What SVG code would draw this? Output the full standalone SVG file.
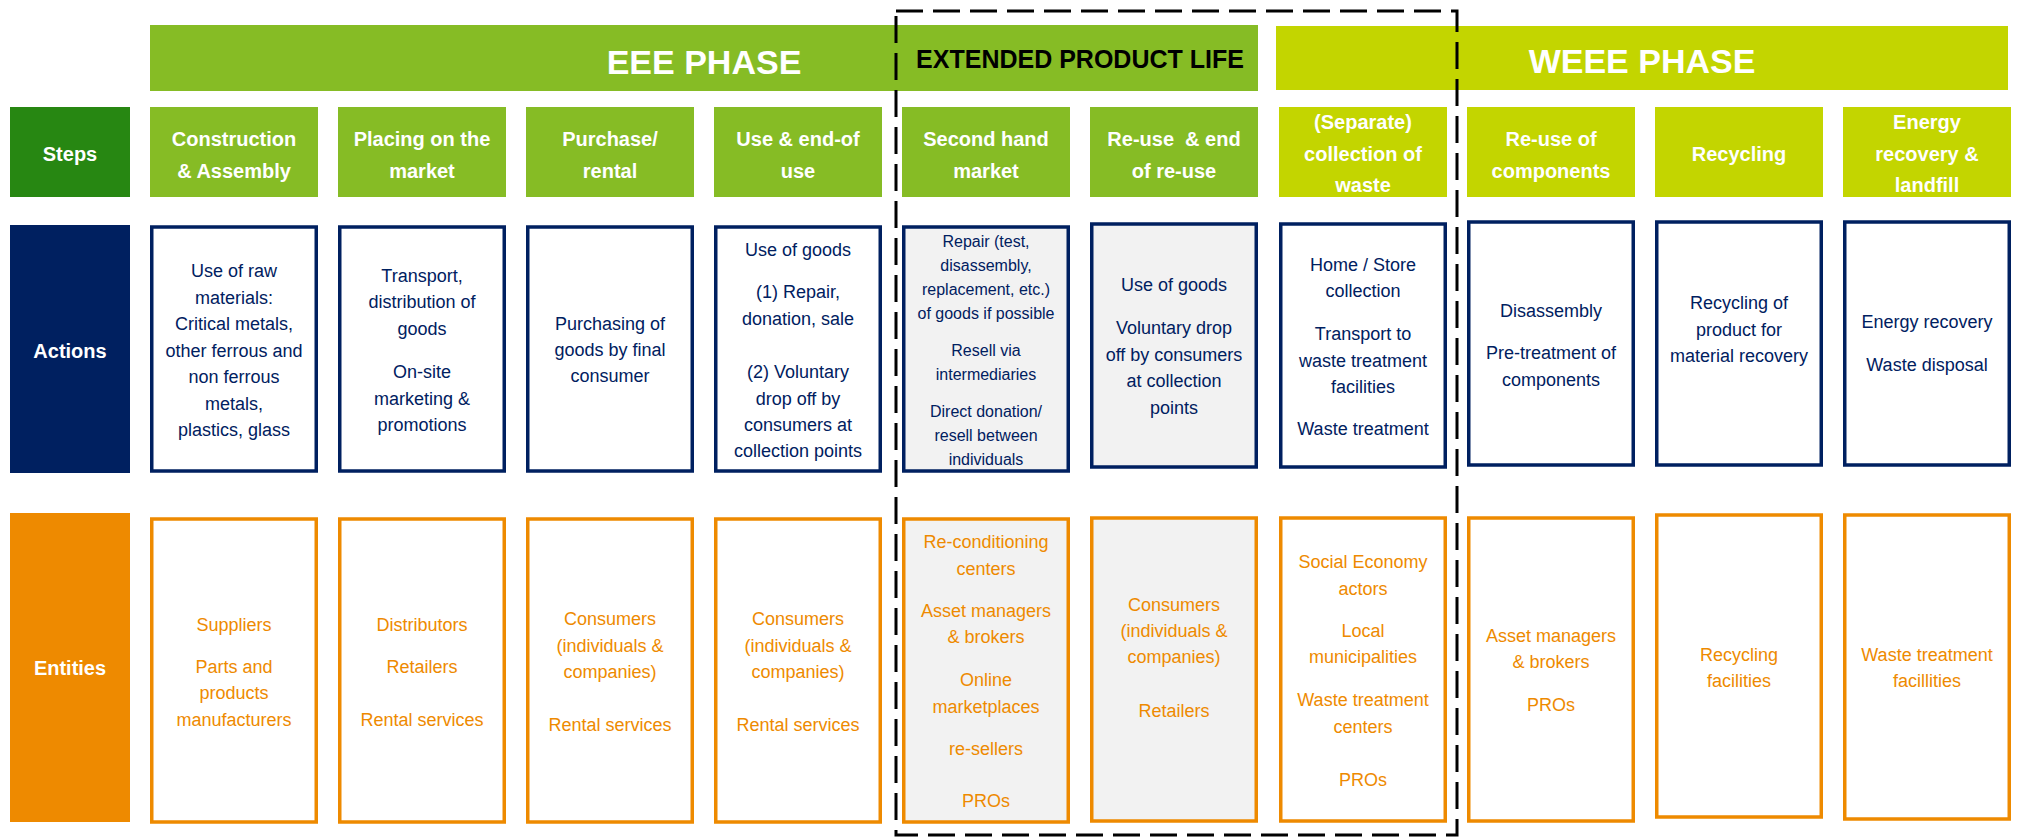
<svg xmlns="http://www.w3.org/2000/svg" width="2022" height="838" viewBox="0 0 2022 838">
  <style>
    text { font-family: "Liberation Sans", Arial, sans-serif; text-anchor: middle; }
    .eee { fill: #86bc25; }
    .weee { fill: #c3d500; }
    .lbl { font-weight: bold; font-size: 20px; fill: #ffffff; }
    .head { font-weight: bold; font-size: 34px; fill: #ffffff; }
    .head2 { font-weight: bold; font-size: 25px; fill: #000000; }
    .act { fill: #ffffff; stroke: #002060; stroke-width: 3.5; }
    .ent { fill: #ffffff; stroke: #ee8a00; stroke-width: 3.5; }
    .shade { fill: #f2f2f2; }
    .atxt { font-size: 18px; fill: #002060; }
    .atxt.small { font-size: 16px; }
    .etxt { font-size: 18px; fill: #ee8a00; }
    .frame { fill: none; stroke: #000000; stroke-width: 3; stroke-dasharray: 27 10; }
  </style>

  <!-- phase banners -->
  <g id="banner-eee">
    <rect class="eee" x="150" y="25" width="1108" height="66"/>
    <text class="head" x="704" y="74">EEE PHASE</text>
    <text class="head2" x="1080" y="68">EXTENDED PRODUCT LIFE</text>
  </g>
  <g id="banner-weee">
    <rect class="weee" x="1276" y="26" width="732" height="64"/>
    <text class="head" x="1642" y="73">WEEE PHASE</text>
  </g>

  <!-- row labels -->
  <g id="label-steps">
    <rect x="10" y="107" width="120" height="90" fill="#278712"/>
    <text class="lbl" x="70" y="161">Steps</text>
  </g>
  <g id="label-actions">
    <rect x="10" y="225" width="120" height="248" fill="#002060"/>
    <text class="lbl" x="70" y="358">Actions</text>
  </g>
  <g id="label-entities">
    <rect x="10" y="513" width="120" height="309" fill="#ee8a00"/>
    <text class="lbl" x="70" y="675">Entities</text>
  </g>

  <!-- steps -->
  <g id="step-1">
    <rect class="eee" x="150" y="107" width="168" height="90"/>
    <text class="lbl" x="234" y="146">Construction</text>
    <text class="lbl" x="234" y="177.5">&amp; Assembly</text>
  </g>
  <g id="step-2">
    <rect class="eee" x="338" y="107" width="168" height="90"/>
    <text class="lbl" x="422" y="146">Placing on the</text>
    <text class="lbl" x="422" y="177.5">market</text>
  </g>
  <g id="step-3">
    <rect class="eee" x="526" y="107" width="168" height="90"/>
    <text class="lbl" x="610" y="146">Purchase/</text>
    <text class="lbl" x="610" y="177.5">rental</text>
  </g>
  <g id="step-4">
    <rect class="eee" x="714" y="107" width="168" height="90"/>
    <text class="lbl" x="798" y="146">Use &amp; end-of</text>
    <text class="lbl" x="798" y="177.5">use</text>
  </g>
  <g id="step-5">
    <rect class="eee" x="902" y="107" width="168" height="90"/>
    <text class="lbl" x="986" y="146">Second hand</text>
    <text class="lbl" x="986" y="177.5">market</text>
  </g>
  <g id="step-6">
    <rect class="eee" x="1090" y="107" width="168" height="90"/>
    <text class="lbl" x="1174" y="146" xml:space="preserve">Re-use  &amp; end</text>
    <text class="lbl" x="1174" y="177.5">of re-use</text>
  </g>
  <g id="step-7">
    <rect class="weee" x="1279" y="107" width="168" height="90"/>
    <text class="lbl" x="1363" y="129">(Separate)</text>
    <text class="lbl" x="1363" y="160.5">collection of</text>
    <text class="lbl" x="1363" y="192">waste</text>
  </g>
  <g id="step-8">
    <rect class="weee" x="1467" y="107" width="168" height="90"/>
    <text class="lbl" x="1551" y="146">Re-use of</text>
    <text class="lbl" x="1551" y="177.5">components</text>
  </g>
  <g id="step-9">
    <rect class="weee" x="1655" y="107" width="168" height="90"/>
    <text class="lbl" x="1739" y="161">Recycling</text>
  </g>
  <g id="step-10">
    <rect class="weee" x="1843" y="107" width="168" height="90"/>
    <text class="lbl" x="1927" y="129">Energy</text>
    <text class="lbl" x="1927" y="160.5">recovery &amp;</text>
    <text class="lbl" x="1927" y="192">landfill</text>
  </g>

  <!-- actions -->
  <g id="action-1">
    <rect class="act" x="151.75" y="227" width="164.5" height="244"/>
    <text class="atxt" x="234" y="277">Use of raw</text>
    <text class="atxt" x="234" y="303.5">materials:</text>
    <text class="atxt" x="234" y="330">Critical metals,</text>
    <text class="atxt" x="234" y="356.5">other ferrous and</text>
    <text class="atxt" x="234" y="383">non ferrous</text>
    <text class="atxt" x="234" y="409.5">metals,</text>
    <text class="atxt" x="234" y="436">plastics, glass</text>
  </g>
  <g id="action-2">
    <rect class="act" x="339.75" y="227" width="164.5" height="244"/>
    <text class="atxt" x="422" y="281.5">Transport,</text>
    <text class="atxt" x="422" y="308">distribution of</text>
    <text class="atxt" x="422" y="334.5">goods</text>
    <text class="atxt" x="422" y="378">On-site</text>
    <text class="atxt" x="422" y="404.5">marketing &amp;</text>
    <text class="atxt" x="422" y="431">promotions</text>
  </g>
  <g id="action-3">
    <rect class="act" x="527.75" y="227" width="164.5" height="244"/>
    <text class="atxt" x="610" y="330">Purchasing of</text>
    <text class="atxt" x="610" y="356">goods by final</text>
    <text class="atxt" x="610" y="382">consumer</text>
  </g>
  <g id="action-4">
    <rect class="act" x="715.75" y="227" width="164.5" height="244"/>
    <text class="atxt" x="798" y="256">Use of goods</text>
    <text class="atxt" x="798" y="298">(1) Repair,</text>
    <text class="atxt" x="798" y="324.5">donation, sale</text>
    <text class="atxt" x="798" y="378">(2) Voluntary</text>
    <text class="atxt" x="798" y="404.5">drop off by</text>
    <text class="atxt" x="798" y="431">consumers at</text>
    <text class="atxt" x="798" y="457">collection points</text>
  </g>
  <g id="action-5">
    <rect class="act shade" x="903.75" y="227" width="164.5" height="244"/>
    <text class="atxt small" x="986" y="247">Repair (test,</text>
    <text class="atxt small" x="986" y="271">disassembly,</text>
    <text class="atxt small" x="986" y="295">replacement, etc.)</text>
    <text class="atxt small" x="986" y="319">of goods if possible</text>
    <text class="atxt small" x="986" y="356">Resell via</text>
    <text class="atxt small" x="986" y="380">intermediaries</text>
    <text class="atxt small" x="986" y="416.5">Direct donation/</text>
    <text class="atxt small" x="986" y="440.5">resell between</text>
    <text class="atxt small" x="986" y="464.5">individuals</text>
  </g>
  <g id="action-6">
    <rect class="act shade" x="1091.75" y="224" width="164.5" height="243"/>
    <text class="atxt" x="1174" y="291">Use of goods</text>
    <text class="atxt" x="1174" y="334">Voluntary drop</text>
    <text class="atxt" x="1174" y="360.5">off by consumers</text>
    <text class="atxt" x="1174" y="387">at collection</text>
    <text class="atxt" x="1174" y="413.5">points</text>
  </g>
  <g id="action-7">
    <rect class="act" x="1280.75" y="224" width="164.5" height="243"/>
    <text class="atxt" x="1363" y="271">Home / Store</text>
    <text class="atxt" x="1363" y="297">collection</text>
    <text class="atxt" x="1363" y="340">Transport to</text>
    <text class="atxt" x="1363" y="366.5">waste treatment</text>
    <text class="atxt" x="1363" y="393">facilities</text>
    <text class="atxt" x="1363" y="435">Waste treatment</text>
  </g>
  <g id="action-8">
    <rect class="act" x="1468.75" y="222" width="164.5" height="243"/>
    <text class="atxt" x="1551" y="317">Disassembly</text>
    <text class="atxt" x="1551" y="359">Pre-treatment of</text>
    <text class="atxt" x="1551" y="385.5">components</text>
  </g>
  <g id="action-9">
    <rect class="act" x="1656.75" y="222" width="164.5" height="243"/>
    <text class="atxt" x="1739" y="309">Recycling of</text>
    <text class="atxt" x="1739" y="335.5">product for</text>
    <text class="atxt" x="1739" y="362">material recovery</text>
  </g>
  <g id="action-10">
    <rect class="act" x="1844.75" y="222" width="164.5" height="243"/>
    <text class="atxt" x="1927" y="328">Energy recovery</text>
    <text class="atxt" x="1927" y="371">Waste disposal</text>
  </g>

  <!-- entities -->
  <g id="entity-1">
    <rect class="ent" x="151.75" y="519" width="164.5" height="303"/>
    <text class="etxt" x="234" y="631">Suppliers</text>
    <text class="etxt" x="234" y="672.5">Parts and</text>
    <text class="etxt" x="234" y="699">products</text>
    <text class="etxt" x="234" y="725.5">manufacturers</text>
  </g>
  <g id="entity-2">
    <rect class="ent" x="339.75" y="519" width="164.5" height="303"/>
    <text class="etxt" x="422" y="631">Distributors</text>
    <text class="etxt" x="422" y="672.5">Retailers</text>
    <text class="etxt" x="422" y="725.5">Rental services</text>
  </g>
  <g id="entity-3">
    <rect class="ent" x="527.75" y="519" width="164.5" height="303"/>
    <text class="etxt" x="610" y="625">Consumers</text>
    <text class="etxt" x="610" y="651.5">(individuals &amp;</text>
    <text class="etxt" x="610" y="678">companies)</text>
    <text class="etxt" x="610" y="730.5">Rental services</text>
  </g>
  <g id="entity-4">
    <rect class="ent" x="715.75" y="519" width="164.5" height="303"/>
    <text class="etxt" x="798" y="625">Consumers</text>
    <text class="etxt" x="798" y="651.5">(individuals &amp;</text>
    <text class="etxt" x="798" y="678">companies)</text>
    <text class="etxt" x="798" y="730.5">Rental services</text>
  </g>
  <g id="entity-5">
    <rect class="ent shade" x="903.75" y="519" width="164.5" height="303"/>
    <text class="etxt" x="986" y="548">Re-conditioning</text>
    <text class="etxt" x="986" y="574.5">centers</text>
    <text class="etxt" x="986" y="616.5">Asset managers</text>
    <text class="etxt" x="986" y="643">&amp; brokers</text>
    <text class="etxt" x="986" y="686">Online</text>
    <text class="etxt" x="986" y="712.5">marketplaces</text>
    <text class="etxt" x="986" y="755">re-sellers</text>
    <text class="etxt" x="986" y="807">PROs</text>
  </g>
  <g id="entity-6">
    <rect class="ent shade" x="1091.75" y="518" width="164.5" height="303"/>
    <text class="etxt" x="1174" y="611">Consumers</text>
    <text class="etxt" x="1174" y="637">(individuals &amp;</text>
    <text class="etxt" x="1174" y="663">companies)</text>
    <text class="etxt" x="1174" y="716.5">Retailers</text>
  </g>
  <g id="entity-7">
    <rect class="ent" x="1280.75" y="518" width="164.5" height="303"/>
    <text class="etxt" x="1363" y="568">Social Economy</text>
    <text class="etxt" x="1363" y="594.5">actors</text>
    <text class="etxt" x="1363" y="636.5">Local</text>
    <text class="etxt" x="1363" y="663">municipalities</text>
    <text class="etxt" x="1363" y="706">Waste treatment</text>
    <text class="etxt" x="1363" y="732.5">centers</text>
    <text class="etxt" x="1363" y="785.5">PROs</text>
  </g>
  <g id="entity-8">
    <rect class="ent" x="1468.75" y="518" width="164.5" height="303"/>
    <text class="etxt" x="1551" y="641.5">Asset managers</text>
    <text class="etxt" x="1551" y="668">&amp; brokers</text>
    <text class="etxt" x="1551" y="710.5">PROs</text>
  </g>
  <g id="entity-9">
    <rect class="ent" x="1656.75" y="515" width="164.5" height="302"/>
    <text class="etxt" x="1739" y="661">Recycling</text>
    <text class="etxt" x="1739" y="687">facilities</text>
  </g>
  <g id="entity-10">
    <rect class="ent" x="1844.75" y="515" width="164.5" height="304"/>
    <text class="etxt" x="1927" y="661">Waste treatment</text>
    <text class="etxt" x="1927" y="687">facillities</text>
  </g>

  <!-- dashed frame around the extended product life columns -->
  <g id="connectors">
    <rect class="frame" x="896" y="11" width="561" height="824"/>
  </g>
</svg>
